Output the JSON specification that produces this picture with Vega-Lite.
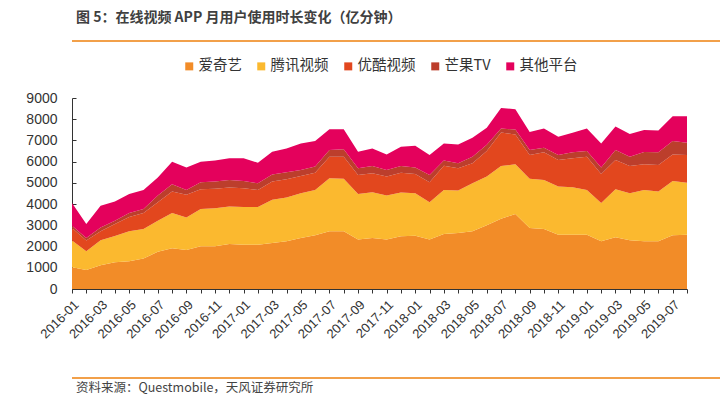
{
 "$schema": "https://vega.github.io/schema/vega-lite/v6.json",
 "background": "white",
 "padding": {"left": 5, "top": 11, "right": 2, "bottom": 0},
 "config": {"font": "Liberation Sans", "view": {"stroke": null}, "legend": {"layout": {"top": {"anchor": "middle"}}}},
 "spacing": 17,
 "align": "none",
 "resolve": {"legend": {"color": "independent"}, "scale": {"color": "independent"}},
 "vconcat": [
  {
   "width": 713, "height": 12,
   "title": {"text": "图 5：在线视频 APP 月用户使用时长变化（亿分钟）", "anchor": "start", "font": "Noto Sans CJK SC", "fontSize": 14, "fontWeight": "bold", "color": "#404040", "offset": 4, "dx": 5},
   "data": {"values": [{}]},
   "mark": {"type": "rule", "color": "#F2A04A", "strokeWidth": 2},
   "encoding": {"y": {"datum": 0, "type": "quantitative", "scale": {"domain": [0, 1]}, "axis": null}}
  },
  {
   "width": 615, "height": 191,
   "data": {"values": [
    {"m":"2016-01","爱奇艺":1030,"腾讯视频":1250,"优酷视频":595,"芒果TV":110,"其他平台":1065},
    {"m":"2016-02","爱奇艺":900,"腾讯视频":880,"优酷视频":500,"芒果TV":120,"其他平台":660},
    {"m":"2016-03","爱奇艺":1125,"腾讯视频":1175,"优酷视频":420,"芒果TV":180,"其他平台":1020},
    {"m":"2016-04","爱奇艺":1265,"腾讯视频":1235,"优酷视频":560,"芒果TV":160,"其他平台":900},
    {"m":"2016-05","爱奇艺":1310,"腾讯视频":1410,"优酷视频":670,"芒果TV":190,"其他平台":900},
    {"m":"2016-06","爱奇艺":1440,"腾讯视频":1390,"优酷视频":750,"芒果TV":190,"其他平台":900},
    {"m":"2016-07","爱奇艺":1750,"腾讯视频":1470,"优酷视频":870,"芒果TV":310,"其他平台":850},
    {"m":"2016-08","爱奇艺":1920,"腾讯视频":1660,"优酷视频":1010,"芒果TV":350,"其他平台":1060},
    {"m":"2016-09","爱奇艺":1840,"腾讯视频":1535,"优酷视频":1065,"芒果TV":230,"其他平台":1050},
    {"m":"2016-10","爱奇艺":2015,"腾讯视频":1755,"优酷视频":930,"芒果TV":330,"其他平台":970},
    {"m":"2016-11","爱奇艺":2015,"腾讯视频":1795,"优酷视频":910,"芒果TV":340,"其他平台":1000},
    {"m":"2016-12","爱奇艺":2125,"腾讯视频":1765,"优酷视频":890,"芒果TV":360,"其他平台":1020},
    {"m":"2017-01","爱奇艺":2090,"腾讯视频":1770,"优酷视频":890,"芒果TV":340,"其他平台":1070},
    {"m":"2017-02","爱奇艺":2090,"腾讯视频":1770,"优酷视频":810,"芒果TV":310,"其他平台":970},
    {"m":"2017-03","爱奇艺":2170,"腾讯视频":2030,"优酷视频":860,"芒果TV":340,"其他平台":1070},
    {"m":"2017-04","爱奇艺":2250,"腾讯视频":2060,"优酷视频":860,"芒果TV":330,"其他平台":1125},
    {"m":"2017-05","爱奇艺":2400,"腾讯视频":2115,"优酷视频":815,"芒果TV":280,"其他平台":1250},
    {"m":"2017-06","爱奇艺":2530,"腾讯视频":2140,"优酷视频":810,"芒果TV":290,"其他平台":1200},
    {"m":"2017-07","爱奇艺":2720,"腾讯视频":2500,"优酷视频":1010,"芒果TV":320,"其他平台":980},
    {"m":"2017-08","爱奇艺":2720,"腾讯视频":2470,"优酷视频":1040,"芒果TV":360,"其他平台":940},
    {"m":"2017-09","爱奇艺":2330,"腾讯视频":2150,"优酷视频":895,"芒果TV":315,"其他平台":780},
    {"m":"2017-10","爱奇艺":2400,"腾讯视频":2160,"优酷视频":890,"芒果TV":350,"其他平台":825},
    {"m":"2017-11","爱奇艺":2330,"腾讯视频":2070,"优酷视频":900,"芒果TV":310,"其他平台":730},
    {"m":"2017-12","爱奇艺":2480,"腾讯视频":2070,"优酷视频":930,"芒果TV":320,"其他平台":900},
    {"m":"2018-01","爱奇艺":2515,"腾讯视频":2000,"优酷视频":905,"芒果TV":310,"其他平台":1020},
    {"m":"2018-02","爱奇艺":2330,"腾讯视频":1760,"优酷视频":940,"芒果TV":345,"其他平台":935},
    {"m":"2018-03","爱奇艺":2590,"腾讯视频":2080,"优酷视频":1140,"芒果TV":240,"其他平台":810},
    {"m":"2018-04","爱奇艺":2640,"腾讯视频":2000,"优酷视频":1050,"芒果TV":230,"其他平台":890},
    {"m":"2018-05","爱奇艺":2720,"腾讯视频":2260,"优酷视频":940,"芒果TV":310,"其他平台":895},
    {"m":"2018-06","爱奇艺":3000,"腾讯视频":2300,"优酷视频":1200,"芒果TV":300,"其他平台":800},
    {"m":"2018-07","爱奇艺":3310,"腾讯视频":2490,"优酷视频":1575,"芒果TV":185,"其他平台":970},
    {"m":"2018-08","爱奇艺":3530,"腾讯视频":2345,"优酷视频":1405,"芒果TV":235,"其他平台":955},
    {"m":"2018-09","爱奇艺":2875,"腾讯视频":2315,"优酷视频":1120,"芒果TV":240,"其他平台":850},
    {"m":"2018-10","爱奇艺":2830,"腾讯视频":2310,"优酷视频":1300,"芒果TV":220,"其他平台":900},
    {"m":"2018-11","爱奇艺":2560,"腾讯视频":2270,"优酷视频":1250,"芒果TV":230,"其他平台":860},
    {"m":"2018-12","爱奇艺":2560,"腾讯视频":2240,"优酷视频":1360,"芒果TV":280,"其他平台":920},
    {"m":"2019-01","爱奇艺":2560,"腾讯视频":2110,"优酷视频":1560,"芒果TV":270,"其他平台":1060},
    {"m":"2019-02","爱奇艺":2250,"腾讯视频":1800,"优酷视频":1370,"芒果TV":300,"其他平台":1140},
    {"m":"2019-03","爱奇艺":2440,"腾讯视频":2260,"优酷视频":1380,"芒果TV":470,"其他平台":1110},
    {"m":"2019-04","爱奇艺":2300,"腾讯视频":2215,"优酷视频":1285,"芒果TV":430,"其他平台":1070},
    {"m":"2019-05","爱奇艺":2250,"腾讯视频":2420,"优酷视频":1205,"芒果TV":580,"其他平台":1040},
    {"m":"2019-06","爱奇艺":2250,"腾讯视频":2340,"优酷视频":1250,"芒果TV":600,"其他平台":1030},
    {"m":"2019-07","爱奇艺":2530,"腾讯视频":2560,"优酷视频":1250,"芒果TV":630,"其他平台":1170},
    {"m":"2019-08","爱奇艺":2560,"腾讯视频":2450,"优酷视频":1300,"芒果TV":580,"其他平台":1250}
   ]},
   "transform": [
    {"fold": ["爱奇艺", "腾讯视频", "优酷视频", "芒果TV", "其他平台"], "as": ["s", "v"]},
    {"calculate": "indexof(['爱奇艺', '腾讯视频', '优酷视频', '芒果TV', '其他平台'], datum.s)", "as": "k"}
   ],
   "mark": {"type": "area", "opacity": 1},
   "encoding": {
    "x": {"field": "m", "type": "ordinal", "sort": null, "scale": {"type": "point", "padding": 0},
      "axis": {"title": null, "labelAngle": -45, "labelExpr": "parseInt(slice(datum.value,5)) % 2 == 1 ? datum.value : ''", "labelOverlap": false, "labelFont": "Liberation Sans", "labelFontSize": 13, "labelColor": "#333333", "domainColor": "#333333", "tickColor": "#333333", "tickSize": 4, "labelPadding": 5, "grid": false}},
    "y": {"field": "v", "type": "quantitative", "stack": "zero", "scale": {"domain": [0, 9000]},
      "axis": {"title": null, "values": [0,1000,2000,3000,4000,5000,6000,7000,8000,9000], "format": "d", "labelOverlap": false, "labelFlush": false, "grid": false, "tickSize": -4, "labelPadding": 19, "minExtent": 67, "domainColor": "#333333", "tickColor": "#333333", "labelFont": "Liberation Sans", "labelFontSize": 14, "labelColor": "#333333"}},
    "order": {"field": "k", "type": "quantitative", "sort": "ascending"},
    "color": {"field": "s", "type": "nominal", "sort": ["爱奇艺", "腾讯视频", "优酷视频", "芒果TV", "其他平台"],
      "scale": {"domain": ["爱奇艺", "腾讯视频", "优酷视频", "芒果TV", "其他平台"], "range": ["#F28C28", "#FBB92F", "#E2471E", "#BC3E2C", "#E4015C"]},
      "legend": {"title": null, "orient": "top", "direction": "horizontal", "symbolType": "square", "symbolSize": 64, "symbolStrokeWidth": 0, "labelFont": "Noto Sans CJK SC", "labelFontSize": 14.5, "labelColor": "#333333", "columnPadding": 12, "labelOffset": 2, "offset": 25}}
   }
  },
  {
   "width": 713, "height": 20,
   "title": {"text": "资料来源：Questmobile，天风证券研究所", "orient": "bottom", "anchor": "start", "font": "Noto Sans CJK SC", "fontSize": 12.5, "fontWeight": "normal", "color": "#444444", "offset": 3, "dx": 5},
   "data": {"values": [{}]},
   "mark": {"type": "rule", "color": "#F2A04A", "strokeWidth": 2},
   "encoding": {"y": {"datum": 0, "type": "quantitative", "scale": {"domain": [0, 1]}, "axis": null}}
  }
 ]
}
